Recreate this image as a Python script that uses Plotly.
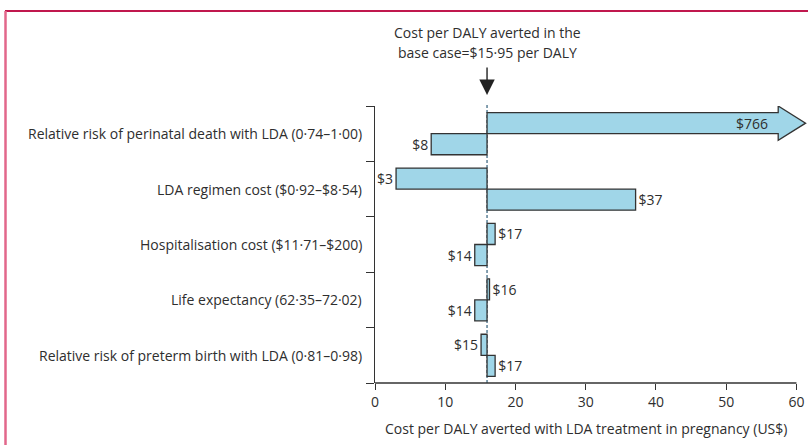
import plotly.graph_objects as go

# ---------------- data ----------------
categories = [
    "Relative risk of perinatal death with LDA (0·74–1·00)",
    "LDA regimen cost ($0·92–$8·54)",
    "Hospitalisation cost ($11·71–$200)",
    "Life expectancy (62·35–72·02)",
    "Relative risk of preterm birth with LDA (0·81–0·98)",
]
base_case = 15.95
upper_vals = [766, 3.0, 17.1, 16.3, 15.1]
lower_vals = [8.0, 37.1, 14.2, 14.2, 17.1]
upper_labels = ["$766", "$3", "$17", "$16", "$15"]
lower_labels = ["$8", "$37", "$14", "$14", "$17"]
x_ticks = [0, 10, 20, 30, 40, 50, 60]
axis_cap = 57.4          # off-scale values are drawn as an arrow ending here
x_title = "Cost per DALY averted with LDA treatment in pregnancy (US$)"
note_lines = ["Cost per DALY averted in the", "base case=$15·95 per DALY"]

# ---------------- style ----------------
W_PX, H_PX = 808, 445
L, R, T, B = 375, 807, 106, 383
PW, PH = R - L, B - T
FONT = "Open Sans"
FS = 14
TXT = "#2e2e2e"
FILL = "#a0d6e8"
EDGE = "#333333"
BARGAP = 0.24
bw = (1 - BARGAP) / 2
x_range = [0, 61.5]


def px_x(p):
    return (p - L) / PW


def px_y(p):
    return (B - p) / PH


ypos = list(range(len(categories)))
tf = dict(family=FONT, size=FS, color=TXT)


def make_trace(vals, labels):
    shown = [min(v, axis_cap) for v in vals]
    capped = [v > axis_cap for v in vals]
    return go.Bar(
        orientation="h",
        y=ypos,
        base=[base_case] * len(vals),
        x=[s - base_case for s in shown],
        text=["" if c else t for c, t in zip(capped, labels)],
        textposition="outside",
        textangle=0,
        constraintext="none",
        textfont=tf, outsidetextfont=tf,
        marker=dict(
            color=["rgba(0,0,0,0)" if c else FILL for c in capped],
            line=dict(color=EDGE, width=[0 if c else 1.3 for c in capped]),
        ),
        cliponaxis=False,
        showlegend=False,
        hoverinfo="skip",
    )


fig = go.Figure()
fig.add_trace(make_trace(upper_vals, upper_labels))
fig.add_trace(make_trace(lower_vals, lower_labels))

shapes = []
annotations = []
# arrows for off-scale bars (upper series = first in group -> offset -bw/2)
for series_vals, series_labels, off in ((upper_vals, upper_labels, -bw / 2),
                                         (lower_vals, lower_labels, bw / 2)):
    for i, v in enumerate(series_vals):
        if v > axis_cap:
            c = i + off
            top, bot = c - bw / 2, c + bw / 2
            hh = 0.31
            tip = axis_cap + 3.9
            path = (f"M {base_case},{top} L {axis_cap},{top} L {axis_cap},{c - hh} "
                    f"L {tip},{c} L {axis_cap},{c + hh} L {axis_cap},{bot} L {base_case},{bot} Z")
            shapes.append(dict(type="path", path=path, xref="x", yref="y",
                               fillcolor=FILL, line=dict(color=EDGE, width=1.3),
                               layer="below"))
            annotations.append(dict(text=series_labels[i], xref="x", yref="y",
                                    x=axis_cap, y=c, xanchor="right", yanchor="middle",
                                    xshift=-8, showarrow=False, font=tf))

# base-case dashed line
shapes.append(dict(type="line", xref="x", yref="paper", x0=base_case, x1=base_case,
                   y0=0, y1=px_y(103), line=dict(color="#5b8096", width=1.5, dash="3px,2px"),
                   layer="below"))
# x-axis line from 0 to 60
shapes.append(dict(type="line", xref="x", yref="paper", x0=x_ticks[0], x1=x_ticks[-1],
                   y0=0, y1=0, line=dict(color=EDGE, width=1.3)))
# frame (top crimson, left pink)
shapes.append(dict(type="line", xref="paper", yref="paper", x0=px_x(5), x1=px_x(808),
                   y0=px_y(11), y1=px_y(11), line=dict(color="#c0184e", width=2)))
shapes.append(dict(type="line", xref="paper", yref="paper", x0=px_x(5.5), x1=px_x(5.5),
                   y0=px_y(11), y1=px_y(446), line=dict(color="#e2678b", width=2.5)))

for i, name in enumerate(categories):
    annotations.append(dict(text=name, xref="paper", yref="y", x=0, y=i,
                            xanchor="right", yanchor="middle", xshift=-11,
                            showarrow=False, font=tf))
annotations.append(dict(text=x_title, xref="x", yref="paper", x=(x_ticks[0] + x_ticks[-1]) / 2,
                        y=px_y(428), xanchor="center", yanchor="middle", showarrow=False,
                        font=tf))
for line, py in zip(note_lines, (32, 53)):
    annotations.append(dict(text=line, xref="x", yref="paper", x=base_case, y=px_y(py),
                            xanchor="center", yanchor="middle", showarrow=False, font=tf))
annotations.append(dict(text="", xref="x", yref="paper", x=base_case, y=px_y(95),
                        showarrow=True, ax=0, ay=-29, arrowhead=2, arrowsize=2.2,
                        arrowwidth=1.4, arrowcolor="#222222", standoff=0))

fig.update_layout(
    width=W_PX, height=H_PX,
    margin=dict(l=L, r=W_PX - R, t=T, b=H_PX - B),
    paper_bgcolor="white", plot_bgcolor="white",
    barmode="group", bargap=BARGAP, bargroupgap=0,
    font=tf,
    xaxis=dict(range=x_range, tickvals=x_ticks, ticks="outside", ticklen=6,
               tickcolor=EDGE, tickwidth=1.3, showgrid=False, zeroline=False,
               showline=False, tickfont=tf),
    yaxis=dict(range=[len(categories) - 0.5, -0.5],
               tickvals=[i - 0.5 for i in range(len(categories) + 1)],
               ticktext=[""] * (len(categories) + 1), ticks="outside", ticklen=8,
               tickcolor=EDGE, tickwidth=1.3, showline=True, linecolor=EDGE,
               linewidth=1.3, showgrid=False, zeroline=False, showticklabels=False),
    shapes=shapes,
    annotations=annotations,
)

fig.write_html("out.html", config={"displayModeBar": False},
               post_script="document.body.style.margin='0';document.body.style.overflow='hidden';")
